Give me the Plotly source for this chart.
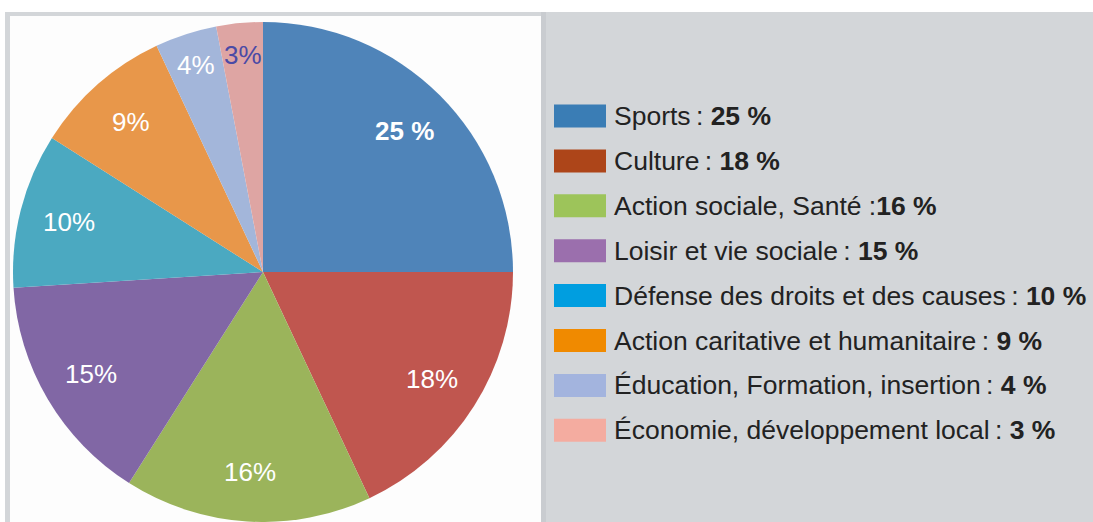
import math
import plotly.graph_objects as go

categories = ["Sports", "Culture", "Action sociale, Santé", "Loisir et vie sociale",
              "Défense des droits et des causes", "Action caritative et humanitaire",
              "Éducation, Formation, insertion", "Économie, développement local"]
values = [25, 18, 16, 15, 10, 9, 4, 3]
slice_text = ["<b>25 %</b>", "18%", "16%", "15%", "10%", "9%", "4%", "3%"]
slice_text_colors = ["white", "white", "white", "white", "white", "white", "white", "#4a4aa6"]
pie_colors = ["#4f84b9", "#c0564f", "#9bb45b", "#8167a5", "#4ba9c1", "#e8974a", "#a3b6da", "#dea5a3"]
legend_colors = ["#3a7db5", "#ad4519", "#9dc45a", "#9b6fad", "#009ee0", "#f08a00", "#a3b4de", "#f4aca0"]
legend_seps = ["\u2009: ", "\u2009: ", " :", "\u2009: ", "\u2009: ", "\u2009: ", "\u2009: ", "\u2009: "]

W, H = 1093, 522
CX, CY, R = 263, 272, 250  # pie centre and radius in pixels
FONT = "Liberation Sans, Arial"

fig = go.Figure()
fig.add_trace(go.Pie(
    labels=categories, values=values, sort=False, direction="clockwise", rotation=0,
    textinfo="none",
    marker=dict(colors=pie_colors, line=dict(width=0)),
    domain=dict(x=[(CX - R) / W, (CX + R) / W], y=[1 - (CY + R) / H, 1 - (CY - R) / H]),
    showlegend=False, hoverinfo="label+percent",
))

shapes = [
    dict(type="rect", xref="paper", yref="paper", x0=5 / W, x1=1, y0=0, y1=1 - 12 / H,
         fillcolor="#d3d6d9", line=dict(width=0), layer="below"),
    dict(type="rect", xref="paper", yref="paper", x0=541 / W, x1=546 / W, y0=0, y1=1 - 12 / H,
         fillcolor="#c9ccd0", line=dict(width=0), layer="below"),
    dict(type="rect", xref="paper", yref="paper", x0=10 / W, x1=541 / W, y0=0, y1=1 - 16 / H,
         fillcolor="#fdfdfd", line=dict(width=0), layer="below"),
]
annotations = []

# slice labels at the middle angle of each slice
total = sum(values)
cum = 0
for i, v in enumerate(values):
    mid = (cum + v / 2) / total * 2 * math.pi
    cum += v
    frac = 0.8 if v >= 5 else 0.87
    px = CX + frac * R * math.sin(mid)
    py = CY - frac * R * math.cos(mid)
    annotations.append(dict(xref="paper", yref="paper", x=px / W, y=1 - py / H,
                            xanchor="center", yanchor="middle", showarrow=False,
                            text=slice_text[i],
                            font=dict(family=FONT, size=26, color=slice_text_colors[i])))

# custom legend
row0, step = 116, 44.9
for i, (cat, val) in enumerate(zip(categories, values)):
    yc = row0 + i * step
    shapes.append(dict(type="rect", xref="paper", yref="paper",
                       x0=554 / W, x1=606 / W, y0=1 - (yc + 11.5) / H, y1=1 - (yc - 11.5) / H,
                       fillcolor=legend_colors[i], line=dict(width=0)))
    annotations.append(dict(xref="paper", yref="paper", x=612 / W, y=1 - yc / H,
                            xanchor="left", yanchor="middle", showarrow=False,
                            text=f"{cat}{legend_seps[i]}<b>{val} %</b>",
                            font=dict(family=FONT, size=26.5, color="#222222")))

fig.update_layout(
    width=W, height=H, margin=dict(l=0, r=0, t=0, b=0),
    paper_bgcolor="white", plot_bgcolor="white",
    shapes=shapes, annotations=annotations,
)
fig.write_html("out.html", config={"displayModeBar": False},
               post_script="document.body.style.margin='0';")
